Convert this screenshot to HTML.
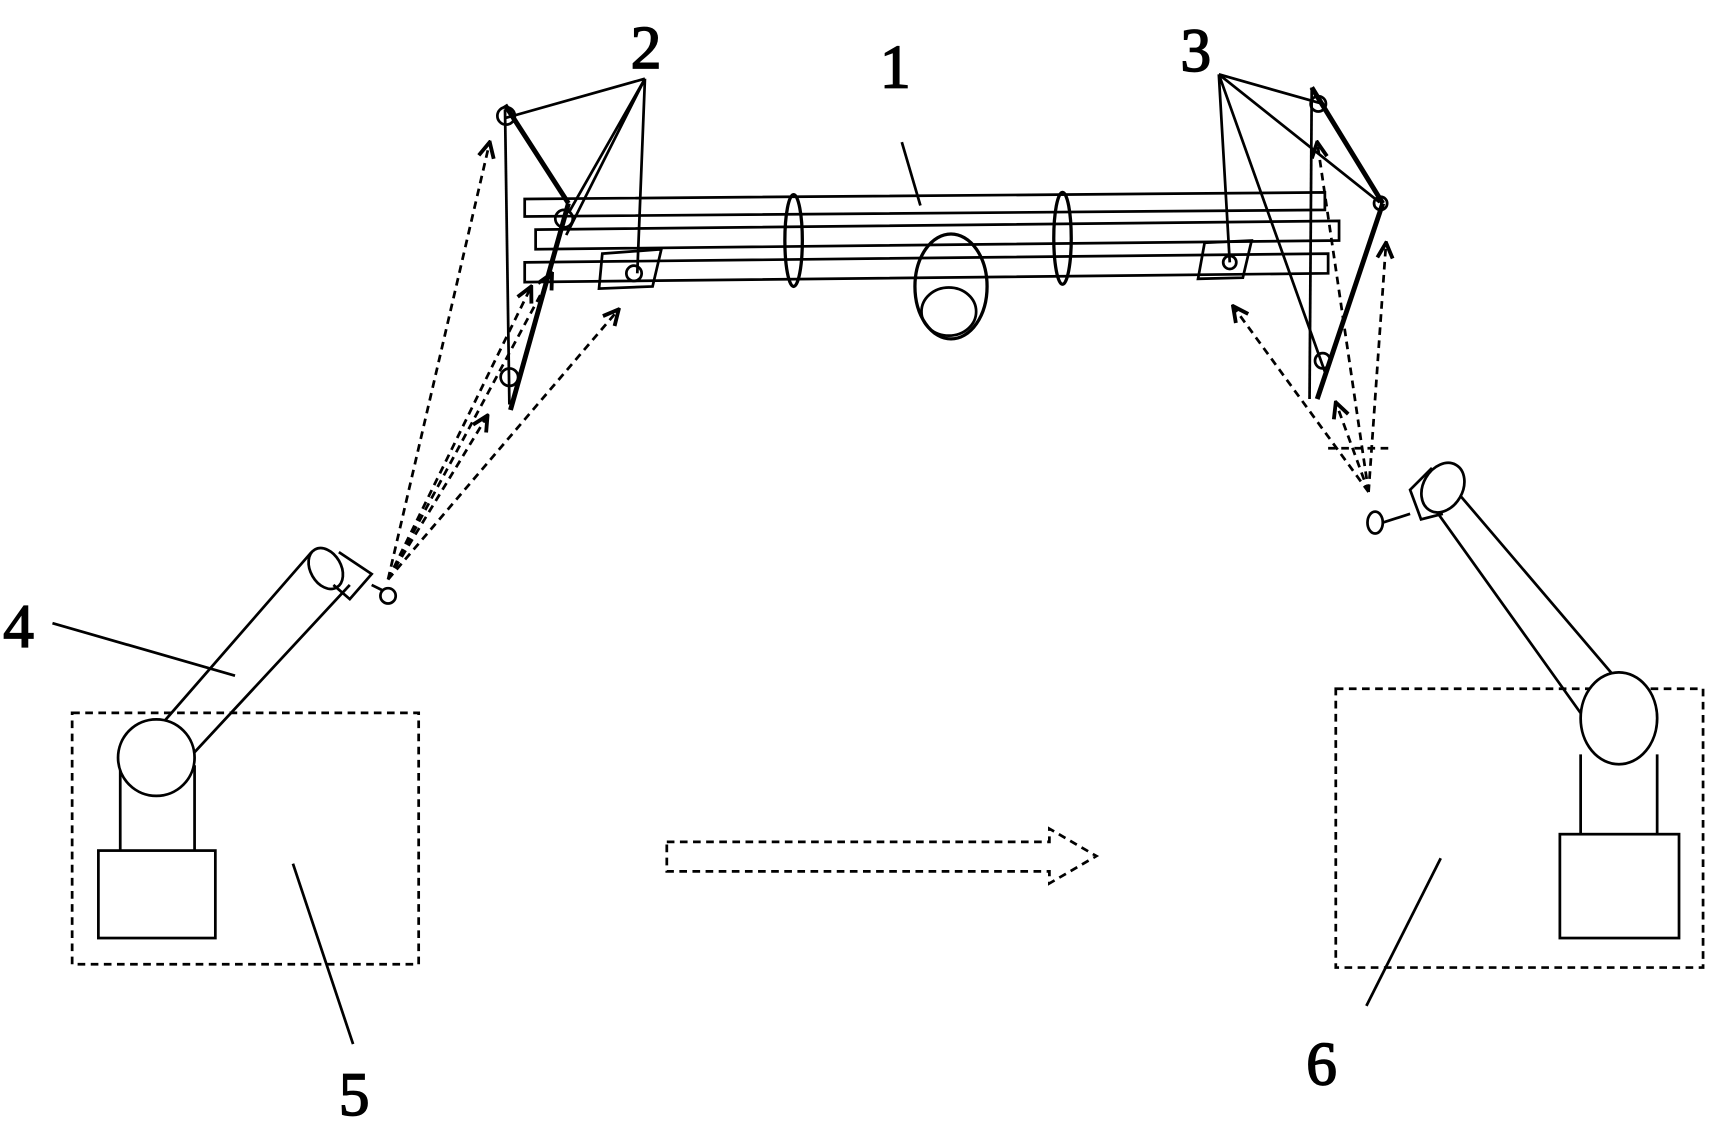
<!DOCTYPE html>
<html><head><style>html,body{margin:0;padding:0;background:#fff;}svg{display:block}</style></head>
<body>
<svg width="1714" height="1125" viewBox="0 0 1568 1029" preserveAspectRatio="none" xmlns="http://www.w3.org/2000/svg">
<defs>
<marker id="a" viewBox="0 0 10 10" refX="9" refY="5" markerWidth="7" markerHeight="7" orient="auto"><path d="M1 1 L9 5 L1 9" fill="none" stroke="#000" stroke-width="2"/></marker>
</defs>
<g fill="none" stroke="#000" stroke-width="2.5">
<path d="M480 182 L1212 176 L1212 192 L480 198 Z"/>
<path d="M490 210 L1225 202 L1225 220 L490 228 Z"/>
<path d="M480 240 L1215 232 L1215 250 L480 258 Z"/>
<ellipse cx="726" cy="220" rx="8" ry="42" stroke-width="3"/>
<ellipse cx="972" cy="218" rx="8" ry="42" stroke-width="3"/>
<path d="M551 232 L605 228 L597 262 L548 264 Z"/>
<circle cx="580" cy="250" r="7"/>
<path d="M1102 222 L1145 220 L1137 254 L1096 255 Z"/>
<circle cx="1125" cy="240" r="6"/>
<ellipse cx="870" cy="262" rx="33" ry="48" stroke-width="3"/>
<ellipse cx="868" cy="285" rx="25" ry="22"/>
<path d="M462 96 L520 186" stroke-width="4.5"/>
<path d="M520 186 L467 375" stroke-width="4.5"/>
<path d="M462 100 L466 370"/>
<circle cx="463" cy="106" r="8"/>
<circle cx="516" cy="200" r="8"/>
<circle cx="466" cy="345" r="8"/>
<path d="M1200 80 L1265 186" stroke-width="4.5"/>
<path d="M1265 186 L1205 365" stroke-width="4.5"/>
<path d="M1200 80 L1198 365"/>
<circle cx="1206" cy="95" r="7"/>
<circle cx="1263" cy="186" r="6"/>
<circle cx="1210" cy="330" r="7"/>
<path d="M590 72 L462 108 M590 72 L520 195 M590 72 L518 215 M590 72 L583 250"/>
<path d="M825 130 L842 188"/>
<path d="M1115 68 L1210 95 M1115 68 L1262 185 M1115 68 L1212 340 M1115 68 L1125 240"/>
<path d="M48 570 L215 618"/>
<path d="M268 790 L323 955"/>
<path d="M1318 785 L1250 920"/>
<rect x="66" y="652" width="317" height="230" stroke-dasharray="7 5"/>
<rect x="1222" y="630" width="336" height="255" stroke-dasharray="7 5"/>
<path d="M610 770 L960 770 L960 758 L1003 783 L960 808 L960 797 L610 797 Z" stroke-dasharray="7 5"/>
<g stroke-dasharray="7 5">
<path d="M355 530 L448 130" marker-end="url(#a)"/>
<path d="M355 530 L486 262" marker-end="url(#a)"/>
<path d="M355 530 L566 283" marker-end="url(#a)"/>
<path d="M355 530 L446 380" marker-end="url(#a)"/>
<path d="M355 530 L505 250" marker-end="url(#a)"/>
<path d="M1252 450 L1205 130" marker-end="url(#a)"/>
<path d="M1252 450 L1128 280" marker-end="url(#a)"/>
<path d="M1252 450 L1268 222" marker-end="url(#a)"/>
<path d="M1252 450 L1222 368" marker-end="url(#a)"/>
<path d="M1215 410 L1270 410"/>
</g>
<rect x="90" y="778" width="107" height="80"/>
<path d="M110 778 L110 700 M178 778 L178 700"/>
<path d="M150 660 L285 505 M178 688 L320 535"/>
<circle cx="143" cy="693" r="35" fill="#fff"/>
<ellipse cx="298" cy="520" rx="14" ry="20" transform="rotate(-30 298 520)" fill="#fff"/>
<path d="M310 505 L340 525 L320 548 L305 535 M340 535 L350 540"/>
<circle cx="355" cy="545" r="7" fill="#fff"/>
<rect x="1427" y="763" width="109" height="95"/>
<path d="M1446 763 L1446 690 M1516 763 L1516 690"/>
<path d="M1305 455 L1448 655 M1333 450 L1478 620"/>
<ellipse cx="1481" cy="657" rx="35" ry="42" fill="#fff"/>
<ellipse cx="1320" cy="446" rx="18" ry="24" transform="rotate(30 1320 446)" fill="#fff"/>
<path d="M1310 428 L1290 448 L1300 475 L1320 470 M1290 470 L1265 478"/>
<ellipse cx="1258" cy="478" rx="7" ry="10" fill="#fff"/>
</g>
<g font-family="Liberation Serif, serif" font-size="56" fill="#000" stroke="#000" stroke-width="1.5">
<text x="577" y="62">2</text>
<text x="805" y="80">1</text>
<text x="1080" y="65">3</text>
<text x="3" y="592">4</text>
<text x="310" y="1020">5</text>
<text x="1195" y="992">6</text>
</g>
</svg>
</body></html>
